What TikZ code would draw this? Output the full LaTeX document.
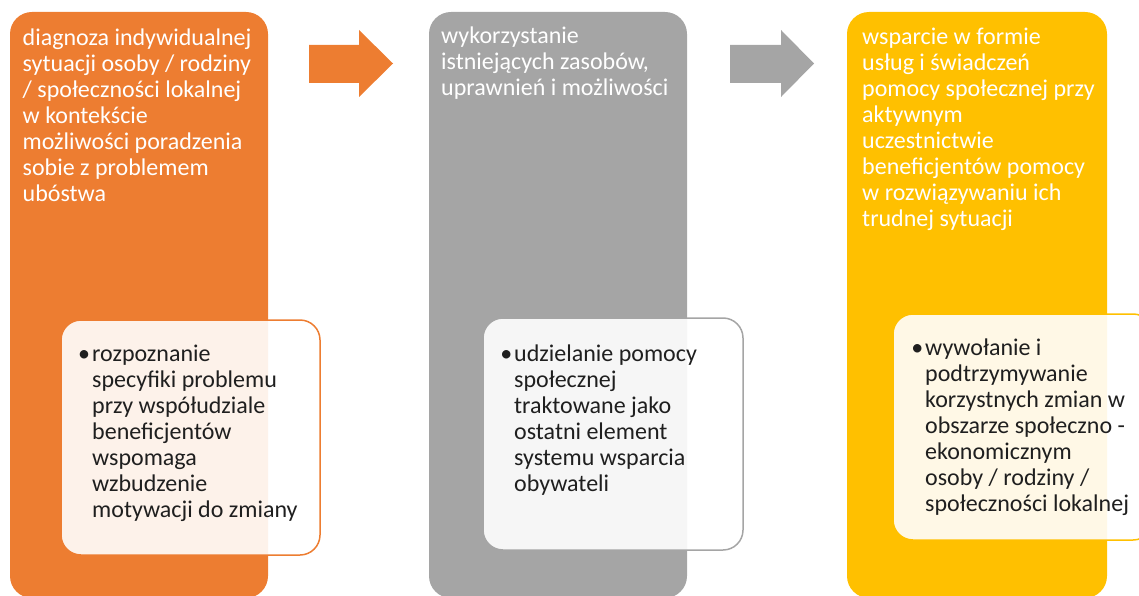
\documentclass[tikz,border=0pt]{standalone}
\usepackage{fontspec}
\setmainfont{Carlito}
\usepackage{xcolor}
\usepackage{tikz}
\usetikzlibrary{positioning}
\definecolor{boxorange}{HTML}{ED7D31}
\definecolor{boxgray}{HTML}{A5A5A5}
\definecolor{boxyellow}{HTML}{FFC000}
\newcommand{\boxfont}{\fontsize{24}{26}\selectfont}
\newcommand{\bul}{\llap{\textbullet\kern2pt}}

\begin{document}
\begin{tikzpicture}[x=1pt,y=-1pt,
  bigbox/.style={rounded corners=22pt},
  smallbox/.style={rounded corners=20pt,line width=1.5pt,fill=white,fill opacity=0.9},
  headtxt/.style={text=white,align=left,inner sep=0pt,font=\boxfont},
  itemtxt/.style={text=black!88,align=left,inner sep=0pt,font=\boxfont}]
\useasboundingbox (0,0) rectangle (1139,596);
\clip (0,0) rectangle (1139,596);

\fill[boxorange,bigbox] (10,12) rectangle (268,598);
\fill[boxgray,bigbox] (429,12) rectangle (687,598);
\fill[boxyellow,bigbox] (847,12) rectangle (1107,598);

\fill[boxorange] (309,45) -- (359,45) -- (359,30) -- (393,63.5) -- (359,97) -- (359,83) -- (309,83) -- cycle;
\fill[boxgray] (730,45) -- (781,45) -- (781,30) -- (814,63.5) -- (781,97) -- (781,83) -- (730,83) -- cycle;

\draw[boxorange,smallbox] (61,320) rectangle (320,555);
\draw[boxgray,smallbox] (483,318) rectangle (743,550);
\draw[boxyellow,smallbox] (893,314) rectangle (1153,540);

\node (diagtxt) [headtxt,below right= 0pt of {(22.5,27.5)}] {\strut diagnoza indywidualnej\\sytuacji osoby / rodziny\\/ społeczności lokalnej\\w kontekście\\możliwości poradzenia\\sobie z problemem\\ubóstwa};
\node (zasobtxt) [headtxt,below right= 0pt of {(441,25)}] {\strut wykorzystanie\\istniejących zasobów,\\uprawnień i możliwości};
\node (wspartxt) [headtxt,below right= 0pt of {(862,26.5)}] {\strut wsparcie w formie\\usług i świadczeń\\pomocy społecznej przy\\aktywnym\\uczestnictwie\\beneficjentów pomocy\\w rozwiązywaniu ich\\trudnej sytuacji};

\node (rozptxt) [itemtxt,below right= 0pt of {(92,343.5)}] {\strut\bul rozpoznanie\\specyfiki problemu\\przy współudziale\\beneficjentów\\wspomaga\\wzbudzenie\\motywacji do zmiany};
\node (udzieltxt) [itemtxt,below right= 0pt of {(514,343.5)}] {\strut\bul udzielanie pomocy\\społecznej\\traktowane jako\\ostatni element\\systemu wsparcia\\obywateli};
\node (wywoltxt) [itemtxt,below right= 0pt of {(925,337.5)}] {\strut\bul wywołanie i\\podtrzymywanie\\korzystnych zmian w\\obszarze społeczno -\\ekonomicznym\\osoby / rodziny /\\społeczności lokalnej};

\end{tikzpicture}
\end{document}
